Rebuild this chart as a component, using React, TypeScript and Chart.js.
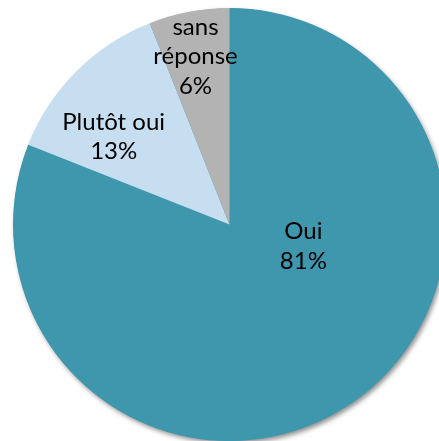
import React, { useEffect, useRef } from "react";
import { Chart, registerables } from "chart.js";

Chart.register(...registerables);

const categories = ["Oui", "Plutôt oui", "sans réponse"];
const values = [81, 13, 6];
const labelLines = [["Oui", "81%"], ["Plutôt oui", "13%"], ["sans", "réponse", "6%"]];
const colors = ["#3E97AD", "#C6DEF0", "#B3B3B3"];

// label centers relative to pie center, in units of radius
const labelOffsets = [
  [0.341, 0.1],
  [-0.535, -0.405],
  [-0.157, -0.775],
];

const shadowPlugin = {
  id: "pieShadow",
  beforeDatasetsDraw(chart: any) {
    const meta = chart.getDatasetMeta(0);
    const arc = meta.data[0];
    if (!arc) return;
    const { x, y, outerRadius } = arc.getProps(["x", "y", "outerRadius"], true);
    const ctx = chart.ctx;
    ctx.save();
    ctx.shadowColor = "rgba(0,0,0,0.45)";
    ctx.shadowBlur = 5;
    ctx.shadowOffsetX = 2;
    ctx.shadowOffsetY = 3;
    ctx.fillStyle = colors[0];
    ctx.beginPath();
    ctx.arc(x, y, outerRadius - 0.5, 0, Math.PI * 2);
    ctx.fill();
    ctx.restore();
  },
};

const labelPlugin = {
  id: "pieLabels",
  afterDatasetsDraw(chart: any) {
    const meta = chart.getDatasetMeta(0);
    const ctx = chart.ctx;
    ctx.save();
    ctx.font = "24px Lato";
    ctx.fillStyle = "#000";
    ctx.textAlign = "center";
    ctx.textBaseline = "middle";
    meta.data.forEach((arc: any, i: number) => {
      const { x, y, outerRadius } = arc.getProps(["x", "y", "outerRadius"], true);
      const lines = labelLines[i];
      const lh = 29.5;
      const cx = x + labelOffsets[i][0] * outerRadius;
      const cy = y + labelOffsets[i][1] * outerRadius;
      lines.forEach((t: string, k: number) => {
        ctx.fillText(t, cx, cy + (k - (lines.length - 1) / 2) * lh);
      });
    });
    ctx.restore();
  },
};

export default function App() {
  const ref = useRef<HTMLCanvasElement>(null);
  useEffect(() => {
    if (!ref.current) return;
    const chart = new Chart(ref.current, {
      type: "pie",
      data: {
        labels: categories,
        datasets: [
          {
            data: values,
            backgroundColor: colors,
            borderWidth: 0,
          },
        ],
      },
      options: {
        responsive: false,
        animation: false,
        layout: { padding: { left: 13, right: 13, top: 8, bottom: 8 } },
        plugins: {
          legend: { display: false },
          tooltip: { enabled: false },
        },
      },
      plugins: [shadowPlugin, labelPlugin],
    });
    return () => chart.destroy();
  }, []);
  return (
    <div style={{ position: "fixed", left: 0, top: 0, width: 439, height: 441, overflow: "hidden", background: "#fff" }}>
      <canvas ref={ref} width={459} height={449} style={{ width: 459, height: 449 }} />
    </div>
  );
}
